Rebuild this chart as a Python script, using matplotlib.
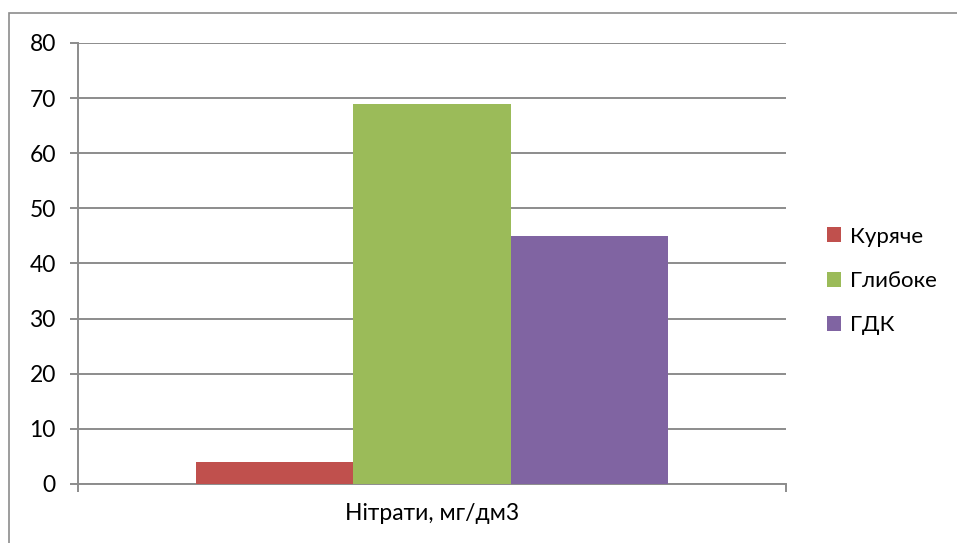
import matplotlib.pyplot as plt
import numpy as np
from matplotlib.patches import Rectangle

plt.rcParams['font.family'] = ['Lato', 'DejaVu Sans']

series = ['Куряче', 'Глибоке', 'ГДК']
values = [4, 69, 45]
colors = ['#C0504D', '#9BBB59', '#8064A2']
category = 'Нітрати, мг/дм3'
yticks = np.arange(0, 81, 10)

grid_col = '#8C8C8C'

fig = plt.figure(figsize=(9.57, 5.43), dpi=100)
ax = fig.add_axes([78 / 957, 59 / 543, 708 / 957, 441 / 543])

w = 1 / 4.5
offsets = (np.arange(len(series)) - 1) * w
for off, v, c, s in zip(offsets, values, colors, series):
    ax.bar(off, v, width=w, color=c, label=s, zorder=3)

ax.set_xlim(-0.5, 0.5)
ax.set_ylim(0, 80)
ax.set_yticks(yticks)
ax.yaxis.grid(True, color=grid_col, linewidth=1.4, zorder=0)
ax.set_axisbelow(True)

ax.set_xticks([0])
ax.set_xticklabels([category])
ax.set_xticks([-0.5, 0.5], minor=True)
ax.tick_params(axis='x', which='major', length=0, pad=14, labelsize=16.5)
ax.tick_params(axis='x', which='minor', length=6, width=1.4, color=grid_col)
ax.tick_params(axis='y', length=6, width=1.4, color=grid_col, pad=10, labelsize=16.5)

for sp in ['top', 'right']:
    ax.spines[sp].set_visible(False)
for sp in ['left', 'bottom']:
    ax.spines[sp].set_color(grid_col)
    ax.spines[sp].set_linewidth(1.4)

ax.legend(loc='center left', bbox_to_anchor=(827 / 957, (543 - 281) / 543), bbox_transform=fig.transFigure,
          frameon=False, fontsize=16, handlelength=0.65, handleheight=0.65,
          handletextpad=0.4, labelspacing=1.1, borderaxespad=0, borderpad=0)

fig.patches.append(Rectangle((9 / 957, -0.1), 2, 1 - 13 / 543 + 0.1, transform=fig.transFigure,
                             fill=False, edgecolor=grid_col, linewidth=1.2))

fig.savefig('out.png', dpi=100)
